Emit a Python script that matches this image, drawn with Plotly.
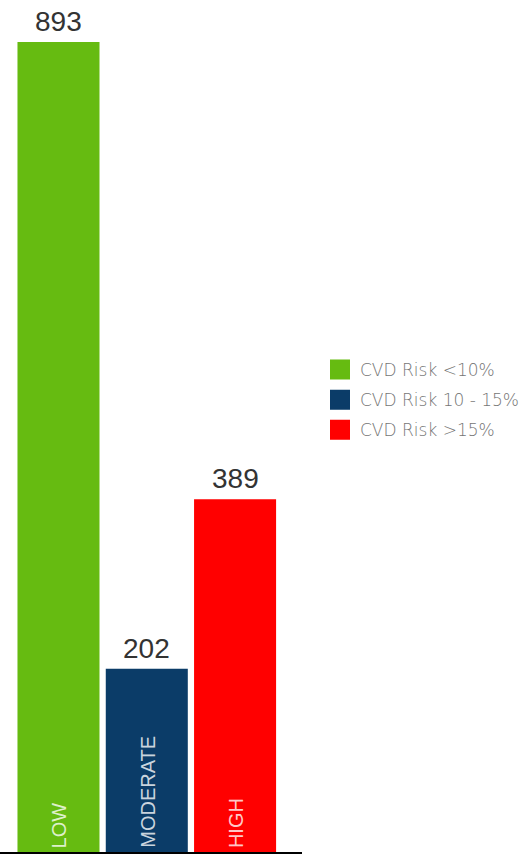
import plotly.graph_objects as go

categories = ["LOW", "MODERATE", "HIGH"]
values = [893, 202, 389]
colors = ["#66BB11", "#0B3C68", "#FF0000"]
legend_labels = ["CVD Risk <10%", "CVD Risk 10 - 15%", "CVD Risk >15%"]

fig = go.Figure()

fig.add_trace(go.Bar(
    x=categories, y=values,
    marker=dict(color=colors, line=dict(width=0)),
    showlegend=False, hoverinfo="skip",
))

for lab, col in zip(legend_labels, colors):
    fig.add_trace(go.Scatter(
        x=[None], y=[None], mode="markers", name=lab, legendgroup=lab,
        marker=dict(symbol="square", size=16, color=col, line=dict(color=col, width=4)),
    ))

annotations = []
for c, v in zip(categories, values):
    annotations.append(dict(
        x=c, y=v, xref="x", yref="y", text=str(v), showarrow=False,
        yanchor="bottom", xanchor="center", yshift=3,
        font=dict(family="Liberation Sans, Arial, sans-serif", size=28, color="#333333"),
    ))
    annotations.append(dict(
        x=c, y=0, xref="x", yref="y", text=c, showarrow=False, textangle=-90,
        yanchor="bottom", xanchor="center", yshift=2, xshift=1,
        font=dict(family="Liberation Sans, Arial, sans-serif", size=20, color="rgba(255,255,255,0.8)"),
    ))

fig.update_layout(
    width=530, height=855,
    margin=dict(l=0, r=0, t=0, b=3),
    paper_bgcolor="white", plot_bgcolor="white",
    bargap=0.071,
    xaxis=dict(domain=[0, 302/530], range=[-0.6625, 2.758], showticklabels=False,
               showgrid=False, zeroline=False, showline=True, linecolor="black",
               linewidth=2, ticks=""),
    yaxis=dict(range=[0, 939.3], showticklabels=False, showgrid=False,
               zeroline=False, showline=False, ticks=""),
    legend=dict(x=320/530, xanchor="left", y=1 - 352/852, yanchor="top",
                tracegroupgap=5, bgcolor="rgba(0,0,0,0)",
                font=dict(family="DejaVu Sans, sans-serif", size=17, color="#757575", weight=300)),
    annotations=annotations,
)

fig.write_html("out.html")
